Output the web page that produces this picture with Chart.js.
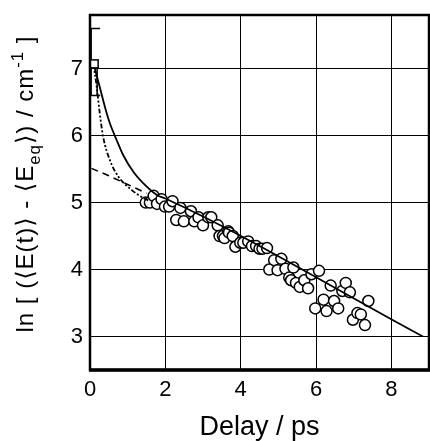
<!DOCTYPE html>
<html lang="en">
<head>
<meta charset="UTF-8">
<title>Delay plot</title>
<script src="https://cdn.jsdelivr.net/npm/chart.js"></script>
<style>
  html, body { margin: 0; padding: 0; background: #fff; }
  #wrap { width: 430px; height: 441px; }
</style>
</head>
<body>
<div id="wrap"><canvas id="chart" width="430" height="441"></canvas></div>
<script>
// measured points (delay in ps, ln value)
const obsX = [1.48, 1.59, 1.69, 1.78, 1.90, 1.99, 2.10, 2.19, 2.29, 2.40, 2.49, 2.68, 2.77, 2.88, 3.00, 3.14, 3.22, 3.39,
  3.44, 3.53, 3.57, 3.67, 3.69, 3.79, 3.86, 3.99, 4.07, 4.20, 4.30, 4.41, 4.50, 4.58, 4.70, 4.76, 4.89, 4.98, 5.08,
  5.19, 5.29, 5.34, 5.40, 5.47, 5.57, 5.69, 5.79, 5.88, 5.98, 6.08, 6.20, 6.28, 6.39, 6.48, 6.59, 6.70, 6.79, 6.90,
  6.98, 7.10, 7.19, 7.30, 7.39];
const obsY = [5.00, 5.00, 5.10, 4.98, 5.05, 4.94, 4.94, 5.02, 4.74, 4.92, 4.72, 4.87, 4.72, 4.78, 4.66, 4.78, 4.78, 4.66,
  4.50, 4.50, 4.47, 4.57, 4.55, 4.50, 4.34, 4.40, 4.40, 4.42, 4.35, 4.35, 4.31, 4.31, 4.32, 4.00, 4.14, 3.99, 4.16,
  4.01, 3.88, 3.84, 4.03, 3.80, 3.74, 3.84, 3.72, 3.93, 3.42, 3.98, 3.55, 3.38, 3.76, 3.53, 3.42, 3.68, 3.80, 3.66,
  3.25, 3.35, 3.33, 3.17, 3.53];

// early-time point with error bar
const startX = [0.11];
const startY = [7.07];
const startErrHi = [7.6];
const startErrLo = [6.6];

// solid fit curve
const fitX = [0.11, 0.26, 0.40, 0.53, 0.71, 0.88, 1.15, 1.50, 1.81, 2.0, 8.84];
const fitY = [7.04, 6.72, 6.42, 6.18, 5.93, 5.71, 5.46, 5.24, 5.10, 5.06, 3.00];

// dashed extrapolation
const dashX = [0.04, 0.5, 1.0, 1.5];
const dashY = [5.51, 5.40, 5.27, 5.14];

// dash-dot curve
const dotX = [0.09, 0.18, 0.26, 0.35, 0.53, 0.75, 1.10, 1.41, 1.6];
const dotY = [7.07, 6.72, 6.33, 5.98, 5.63, 5.39, 5.19, 5.07, 5.02];

const xTicks = [0, 2, 4, 6, 8];
const yTicks = [3, 4, 5, 6, 7];

const FONT = "'Liberation Sans', Arial, 'DejaVu Sans', sans-serif";

function pts(xs, ys) { return xs.map((x, i) => ({ x: x, y: ys[i] })); }

const framePlugin = {
  id: 'frame',
  afterDatasetsDraw(chart) {
    const c = chart.ctx, a = chart.chartArea;
    const xs = chart.scales.x, ys = chart.scales.y;
    c.save();
    // error bar on first point
    c.strokeStyle = '#000';
    c.lineWidth = 1.5;
    const px = xs.getPixelForValue(startX[0]);
    const pHi = ys.getPixelForValue(startErrHi[0]);
    const pLo = ys.getPixelForValue(startErrLo[0]);
    const pMid = ys.getPixelForValue(startY[0]);
    c.beginPath();
    c.moveTo(px - 3, pHi); c.lineTo(px - 3, pLo);
    c.moveTo(px - 3, pHi); c.lineTo(px + 6, pHi);
    c.moveTo(px + 3, pMid); c.lineTo(px + 3, pLo);
    c.moveTo(px - 3, pLo); c.lineTo(px + 6, pLo);
    c.stroke();
    c.fillStyle = '#fff';
    c.fillRect(px - 4, pMid - 4, 8, 8);
    c.strokeRect(px - 4, pMid - 4, 8, 8);
    // frame
    c.lineWidth = 2.5;
    c.strokeRect(a.left, a.top, a.right - a.left, a.bottom - a.top);
    c.lineWidth = 3.5;
    c.beginPath();
    c.moveTo(a.left - 1, a.bottom); c.lineTo(a.right + 1, a.bottom);
    c.stroke();
    c.restore();
  },
  afterDraw(chart) {
    // y title with subscript / superscript
    const c = chart.ctx;
    const size = 24;
    const parts = [
      ['ln [ (\u27E8E(t)\u27E9 - \u27E8E', 0, size],
      ['eq', 7, size * 0.7],
      ['\u27E9) / cm', 0, size],
      ['-1', -10, size * 0.7],
      [' ]', 0, size]
    ];
    c.save();
    c.fillStyle = '#000';
    c.textBaseline = 'alphabetic';
    c.letterSpacing = '1px';
    let total = 0;
    parts.forEach(p => { c.font = p[2] + 'px ' + FONT; total += c.measureText(p[0]).width; });
    c.translate(33, 184);
    c.rotate(-Math.PI / 2);
    let x = -total / 2;
    parts.forEach(p => {
      c.font = p[2] + 'px ' + FONT;
      c.fillText(p[0], x, p[1]);
      x += c.measureText(p[0]).width;
    });
    c.restore();
  }
};

new Chart(document.getElementById('chart').getContext('2d'), {
  type: 'scatter',
  data: {
    datasets: [
      {
        label: 'fit',
        type: 'line',
        data: pts(fitX, fitY),
        borderColor: '#000',
        borderWidth: 1.8,
        pointRadius: 0,
        cubicInterpolationMode: 'monotone',
        fill: false
      },
      {
        label: 'dash',
        type: 'line',
        data: pts(dashX, dashY),
        borderColor: '#000',
        borderWidth: 1.6,
        borderDash: [7, 5],
        pointRadius: 0,
        fill: false
      },
      {
        label: 'dashdot',
        type: 'line',
        data: pts(dotX, dotY),
        borderColor: '#000',
        borderWidth: 1.8,
        borderDash: [5, 2, 2, 2, 2, 2],
        pointRadius: 0,
        cubicInterpolationMode: 'monotone',
        fill: false
      },
      {
        label: 'data',
        data: pts(obsX, obsY),
        pointRadius: 5.5,
        pointBackgroundColor: '#fff',
        pointBorderColor: '#000',
        pointBorderWidth: 1.5
      }
    ]
  },
  options: {
    responsive: false,
    animation: false,
    layout: { autoPadding: false, padding: { left: 0, right: 1, top: 15, bottom: 0 } },
    plugins: { legend: { display: false }, tooltip: { enabled: false } },
    scales: {
      x: {
        type: 'linear',
        min: 0, max: 9,
        afterBuildTicks(s) { s.ticks = xTicks.map(v => ({ value: v })); },
        afterFit(s) { s.height = 71; s.paddingLeft = 0; s.paddingRight = 0; },
        grid: { color: '#000', lineWidth: 1, drawTicks: false },
        border: { display: false },
        ticks: { color: '#000', padding: 7, font: { family: FONT, size: 22 } },
        title: {
          display: true, text: 'Delay / ps', color: '#000',
          font: { family: FONT, size: 27 }, padding: { top: 0, bottom: -3 }
        }
      },
      y: {
        min: 2.5, max: 7.8,
        afterBuildTicks(s) { s.ticks = yTicks.map(v => ({ value: v })); },
        afterFit(s) { s.width = 90; s.paddingTop = 0; s.paddingBottom = 0; },
        grid: { color: '#000', lineWidth: 1, drawTicks: false },
        border: { display: false },
        ticks: { color: '#000', padding: 7, font: { family: FONT, size: 22 } }
      }
    }
  },
  plugins: [framePlugin]
});
</script>
</body>
</html>
